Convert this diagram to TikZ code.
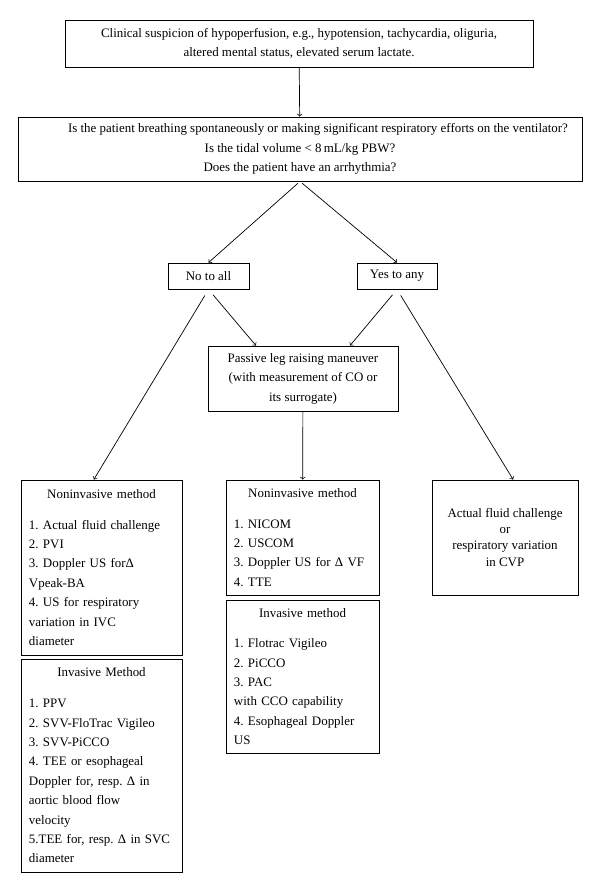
\documentclass[tikz,border=0pt]{standalone}
\usepackage{fontspec}
\setmainfont{Liberation Serif}
\setlength{\parindent}{0pt}
\frenchspacing

\begin{document}
\begin{tikzpicture}[x=0.025cm, y=-0.025cm,
    box/.style={draw, line width=0.6pt, inner sep=0pt, align=center, font=\fontsize{9.2}{13.8}\selectfont},
    listbox/.style={draw, line width=0.6pt, inner xsep=0.2cm, inner ysep=0pt, font=\fontsize{9.2}{13.8}\selectfont},
    arr/.style={->, line width=0.5pt}]
    \useasboundingbox (0,0) rectangle (600,893);

    \node[box, minimum width=11.7cm, minimum height=1.175cm] (susp) at (299, 43.5) {Clinical suspicion of hypoperfusion, e.g., hypotension, tachycardia, oliguria,\\ altered mental status, elevated serum lactate.};
    \node[box, minimum width=14.1cm, minimum height=1.6cm] (quest) at (300, 149) {\hspace*{0.9cm}Is the patient breathing spontaneously or making significant respiratory efforts on the ventilator?\\ Is the tidal volume < 8\,mL/kg PBW?\\ Does the patient have an arrhythmia?};
    \node[box, minimum width=2.025cm, minimum height=0.65cm] (no) at (208.5, 276) {No to all};
    \node[box, minimum width=2cm, minimum height=0.65cm] (yes) at (397, 276) {Yes to any};
    \node[box, minimum width=4.75cm, minimum height=1.625cm] (plr) at (303, 378.5) {Passive leg raising maneuver\\ (with measurement of CO or\\ its surrogate)};

    \node[listbox, text width=3.625cm, minimum height=4.375cm] (leftnon) at (101.5, 567.5) {{\centering Noninvasive method\par}\vspace{8pt}
        1. Actual fluid challenge\\ 2. PVI\\ 3. Doppler US forΔ\\ Vpeak-BA\\ 4. US for respiratory\\ variation in IVC\\ diameter};
    \node[listbox, text width=3.625cm, minimum height=5.325cm] (leftinv) at (101.5, 765.5) {{\centering Invasive Method\par}\vspace{8pt}
        1. PPV\\ 2. SVV-FloTrac Vigileo\\ 3. SVV-PiCCO\\ 4. TEE or esophageal\\ Doppler for, resp. Δ in\\ aortic blood flow\\ velocity\\ 5.TEE for, resp. Δ in SVC\\ diameter};
    \node[listbox, text width=3.425cm, minimum height=2.875cm] (midnon) at (302.5, 537.5) {{\centering Noninvasive method\par}\vspace{8pt}
        1. NICOM\\ 2. USCOM\\ 3. Doppler US for Δ VF\\ 4. TTE};
    \node[listbox, text width=3.425cm, minimum height=3.825cm] (midinv) at (302.5, 676.5) {{\centering Invasive method\par}\vspace{8pt}
        1. Flotrac Vigileo\\ 2. PiCCO\\ 3. PAC\\ with CCO capability\\ 4. Esophageal Doppler\\ US};
    \node[box, minimum width=3.65cm, minimum height=2.875cm, font=\fontsize{9.2}{11.4}\selectfont] (fluid) at (505, 537.5) {Actual fluid challenge\\ or\\ respiratory variation\\ in CVP};

    \draw[arr] (susp) -- (quest);
    \draw[arr, shorten <=2pt] (quest.south) -- (no.north);
    \draw[arr, shorten <=2pt] (quest.south) -- (yes.north);
    \draw[arr, shorten <=5pt] (no.south) -- (plr.145);
    \draw[arr, shorten <=5pt] (no.south) -- (leftnon.95);
    \draw[arr, shorten <=5pt] (yes.south) -- (plr.35);
    \draw[arr, shorten <=5pt] (yes.south) -- (fluid.82);
    \draw[arr] (plr) -- (midnon);
\end{tikzpicture}
\end{document}
